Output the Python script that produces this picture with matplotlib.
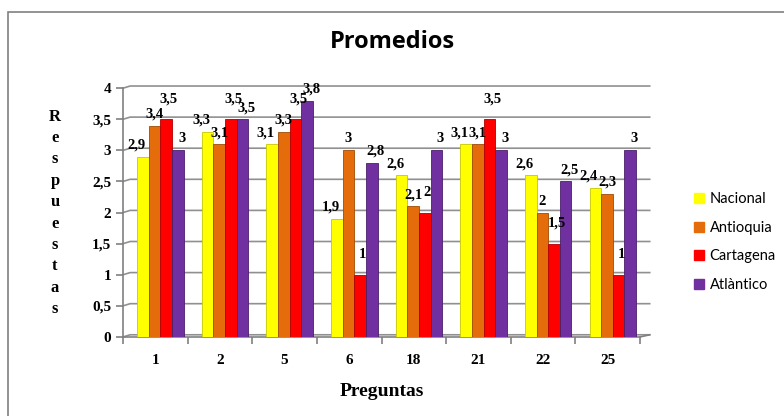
import matplotlib.pyplot as plt
import matplotlib.patches as mpatches
import numpy as np

preguntas = ['1', '2', '5', '6', '18', '21', '22', '25']
nacional = [2.9, 3.3, 3.1, 1.9, 2.6, 3.1, 2.6, 2.4]
antioquia = [3.4, 3.1, 3.3, 3.0, 2.1, 3.1, 2.0, 2.3]
cartagena = [3.5, 3.5, 3.5, 1.0, 2.0, 3.5, 1.5, 1.0]
atlantico = [3.0, 3.5, 3.8, 2.8, 3.0, 3.0, 2.5, 3.0]

series = [('Nacional', nacional, '#FFFF00', '#C8C800'),
          ('Antioquia', antioquia, '#E46C0A', '#A04A05'),
          ('Cartagena', cartagena, '#FF0000', '#B00000'),
          ('Atlàntico', atlantico, '#7030A0', '#4A1F6B')]

serif = 'Liberation Serif'

fig = plt.figure(figsize=(7.84, 4.16), dpi=100)
# outer border of the chart
fig.patches.append(mpatches.Rectangle((8/784, -0.1), 1.0, 1 - 12/416 + 0.1,
                                      transform=fig.transFigure, fill=False,
                                      edgecolor='#808080', linewidth=1.2))

ax = fig.add_axes([123/784, 0.19, 517/784, 0.598])
x = np.arange(len(preguntas))
w = 0.18
offsets = np.array([-1.5, -0.5, 0.5, 1.5]) * w
shift = 0.08  # fake depth shift of the 3D bars
label_dx = [-0.1, 0.0, 0.04, 0.06]
label_dy = [0.08, 0.08, 0.22, 0.08]

for (name, vals, col, edge), off, dx, dy_l in zip(series, offsets, label_dx, label_dy):
    xs = x + off + shift
    ax.bar(xs, vals, w, color=col, edgecolor=edge,
           linewidth=0.6, label=name, zorder=3)
    for xi, v in zip(xs, vals):
        txt = ('%g' % v).replace('.', ',')
        ax.text(xi + dx, v + dy_l, txt, ha='center', va='bottom',
                fontfamily=serif, fontweight='bold', fontsize=10.5, zorder=4)

ax.set_xlim(-0.5, 7.5)
ax.set_ylim(0, 4)
yt = np.arange(0, 4.01, 0.5)

# back wall grid lines with a small depth step
dy = 0.035
for t in yt:
    ax.plot([-0.5, -0.39, 7.65], [t, t + dy, t + dy], color='#909090',
            linewidth=1.2, zorder=1, clip_on=False)
ax.plot([7.5, 7.65], [0, dy], color='#808080', linewidth=1.2, clip_on=False)

ax.set_yticks(yt)
ax.set_yticklabels([('%g' % t).replace('.', ',') for t in yt],
                   fontfamily=serif, fontweight='bold', fontsize=11)
ax.set_xticks(x)
ax.set_xticklabels(preguntas, fontfamily=serif, fontweight='bold', fontsize=11)
ax.set_xticks(np.arange(-0.5, 7.6, 1), minor=True)
ax.tick_params(axis='x', which='major', length=0, pad=12)
ax.tick_params(axis='x', which='minor', length=5, color='#808080', width=1.2)
ax.tick_params(axis='y', length=5, color='#808080', width=1.2)
for s in ['top', 'right']:
    ax.spines[s].set_visible(False)
ax.spines['left'].set_color('#808080')
ax.spines['bottom'].set_color('#808080')
ax.spines['left'].set_linewidth(1.2)
ax.spines['bottom'].set_linewidth(1.2)

ax.set_xlabel('Preguntas', fontfamily=serif, fontweight='bold', fontsize=14, labelpad=12)
fig.text(55/784, 1 - 213/416, '\n'.join('Respuestas'), ha='center', va='center',
         fontfamily=serif, fontweight='bold', fontsize=12, linespacing=1.45)

fig.text(0.5, 1 - 42/416, 'Promedios', ha='center', va='center',
         fontfamily='Open Sans', fontweight='bold', fontsize=17)

handles = [mpatches.Patch(color=c, label=n) for n, _, c, _ in series]
fig.legend(handles=handles, loc='center left', bbox_to_anchor=(0.868, 1 - 242/416),
           frameon=False, prop={'family': 'Lato', 'size': 10.5},
           handlelength=0.7, handleheight=0.7, handletextpad=0.4, labelspacing=1.0)

fig.savefig('out.png', dpi=100)
